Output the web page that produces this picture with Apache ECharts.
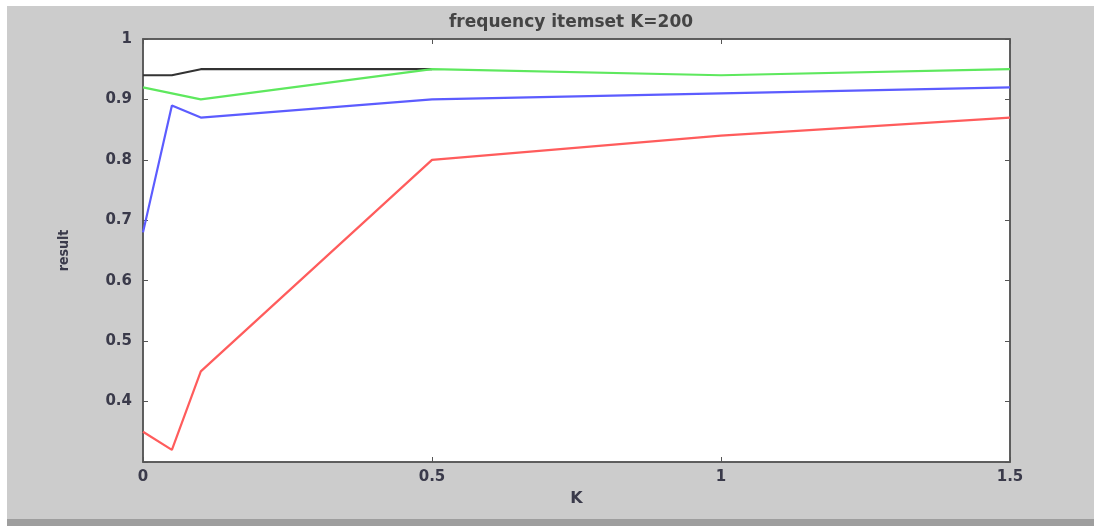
<!DOCTYPE html>
<html>
<head>
<meta charset="utf-8">
<script src="https://cdn.jsdelivr.net/npm/echarts@6/dist/echarts.min.js"></script>
<style>
  html, body { margin: 0; padding: 0; background: #fff; }
  #chart { width: 1094px; height: 526px; }
</style>
</head>
<body>
<div id="chart"></div>
<script>
// x positions (K) and result values
const kValues = [0, 0.05, 0.1, 0.5, 1, 1.5]
const redData = [0.35, 0.32, 0.45, 0.80, 0.84, 0.87]
const blueData = [0.68, 0.89, 0.87, 0.90, 0.91, 0.92]
const greenData = [0.92, 0.91, 0.90, 0.95, 0.94, 0.95]
const blackData = [0.94, 0.94, 0.95, 0.95, null, null]
const xTicks = [0, 0.5, 1, 1.5]
const yTicks = [0.4, 0.5, 0.6, 0.7, 0.8, 0.9, 1]

function pairs(vals) {
  return kValues.map((k, i) => [k, vals[i]])
}

function lineSeries(name, vals, color) {
  return {
    name: name,
    type: 'line',
    data: pairs(vals),
    showSymbol: false,
    symbol: 'none',
    connectNulls: false,
    animation: false,
    lineStyle: { color: color, width: 2.2 },
    z: 3
  }
}

const labelStyle = { color: '#3a3a4a', fontSize: 15, fontWeight: 'bold', fontFamily: 'DejaVu Sans' }

const chart = echarts.init(document.getElementById('chart'))
chart.setOption({
  backgroundColor: '#ffffff',
  animation: false,
  graphic: [
    { type: 'rect', z: -10, shape: { x: 7, y: 6, width: 1087, height: 513 }, style: { fill: '#cccccc' } },
    { type: 'rect', z: -10, shape: { x: 7, y: 519, width: 1087, height: 7 }, style: { fill: '#9e9e9e' } }
  ],
  title: {
    text: 'frequency itemset K=200',
    left: 566,
    top: 9,
    textAlign: 'center',
    textStyle: { color: '#444', fontSize: 17, fontWeight: 'bold', fontFamily: 'DejaVu Sans' }
  },
  grid: {
    left: 143,
    right: 84,
    top: 39,
    bottom: 64,
    show: true,
    backgroundColor: '#ffffff',
    borderColor: '#555',
    borderWidth: 1.5
  },
  xAxis: [
    {
      type: 'value',
      min: 0,
      max: 1.5,
      interval: 0.5,
      name: 'K',
      nameLocation: 'middle',
      nameGap: 29,
      nameTextStyle: { color: '#3a3a4a', fontSize: 16, fontWeight: 'bold', fontFamily: 'DejaVu Sans' },
      axisLine: { show: true, onZero: false, lineStyle: { color: '#555', width: 1.5 } },
      axisTick: { show: true, inside: true, length: 5, lineStyle: { color: '#555' } },
      axisLabel: Object.assign({ margin: 8, formatter: v => xTicks.includes(v) ? String(v) : '' }, labelStyle),
      splitLine: { show: false }
    },
    {
      type: 'value',
      position: 'top',
      min: 0,
      max: 1.5,
      interval: 0.5,
      axisLine: { show: true, onZero: false, lineStyle: { color: '#555', width: 1.5 } },
      axisTick: { show: true, inside: true, length: 5, lineStyle: { color: '#555' } },
      axisLabel: { show: false },
      splitLine: { show: false }
    }
  ],
  yAxis: [
    {
      type: 'value',
      min: 0.3,
      max: 1,
      interval: 0.1,
      name: 'result',
      nameLocation: 'middle',
      nameGap: 72,
      nameRotate: 90,
      nameTextStyle: { color: '#3a3a4a', fontSize: 14, fontWeight: 'bold', fontFamily: 'DejaVu Sans Condensed' },
      axisLine: { show: true, onZero: false, lineStyle: { color: '#555', width: 1.5 } },
      axisTick: { show: true, inside: true, length: 5, lineStyle: { color: '#555' } },
      axisLabel: Object.assign({
        margin: 11,
        formatter: v => {
          const r = Math.round(v * 10) / 10
          return yTicks.includes(r) ? String(r) : ''
        }
      }, labelStyle),
      splitLine: { show: false }
    },
    {
      type: 'value',
      position: 'right',
      min: 0.3,
      max: 1,
      interval: 0.1,
      axisLine: { show: true, onZero: false, lineStyle: { color: '#555', width: 1.5 } },
      axisTick: { show: true, inside: true, length: 5, lineStyle: { color: '#555' } },
      axisLabel: { show: false },
      splitLine: { show: false }
    }
  ],
  series: [
    lineSeries('black', blackData, '#333333'),
    lineSeries('green', greenData, '#5ee85e'),
    lineSeries('blue', blueData, '#5c5cff'),
    lineSeries('red', redData, '#ff5c5c')
  ]
})
</script>
</body>
</html>
